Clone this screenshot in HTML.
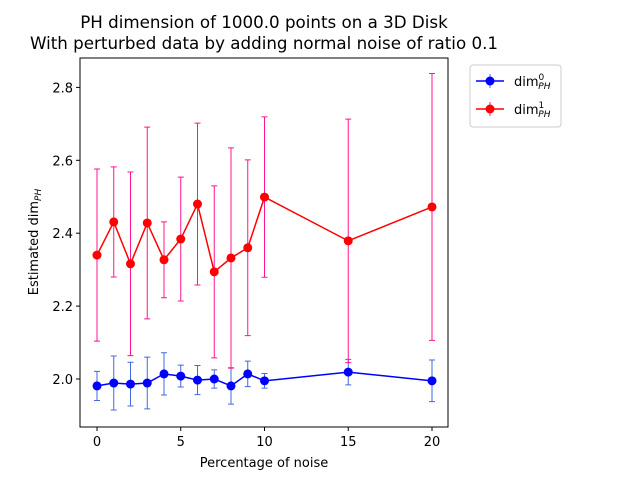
<!DOCTYPE html>
<html><head><meta charset="utf-8"><style>
body{margin:0;background:#fff}
svg{font-family:"DejaVu Sans","Liberation Sans",sans-serif}
</style></head><body>
<svg id="chart" width="640" height="480" viewBox="0 0 640 480">
<text x="264" y="28" font-size="16.7" text-anchor="middle">PH dimension of 1000.0 points on a 3D Disk</text>
<text x="264" y="49" font-size="16.7" text-anchor="middle">With perturbed data by adding normal noise of ratio 0.1</text>
<g id="plot"></g>
<rect x="80" y="58" width="368" height="369" fill="none" stroke="#000" stroke-width="1"/>
<text x="264" y="467" font-size="13" text-anchor="middle">Percentage of noise</text>
<text transform="translate(38,242) rotate(-90)" font-size="13" text-anchor="middle">Estimated dim<tspan font-size="9" dy="3" font-style="italic">PH</tspan></text>
<g>
<rect x="470" y="65" width="91" height="62" rx="3" fill="#fff" stroke="#ccc"/>
<g>
<line x1="476" y1="81" x2="504" y2="81" stroke="blue" stroke-width="1.5"/>
<line x1="490" y1="74" x2="490" y2="88" stroke="royalblue" stroke-width="1"/>
<circle cx="490" cy="81" r="4.5" fill="blue"/>
<text x="514" y="86" font-size="13">dim<tspan font-size="9" dy="-6">0</tspan><tspan font-size="9" dx="-6" dy="9" font-style="italic">PH</tspan></text>
</g>
<g>
<line x1="476" y1="109" x2="504" y2="109" stroke="red" stroke-width="1.5"/>
<line x1="490" y1="102" x2="490" y2="116" stroke="deeppink" stroke-width="1"/>
<circle cx="490" cy="109" r="4.5" fill="red"/>
<text x="514" y="114" font-size="13">dim<tspan font-size="9" dy="-6">1</tspan><tspan font-size="9" dx="-6" dy="9" font-style="italic">PH</tspan></text>
</g>
</g>
</svg>
<script>
const noiseLevels=[0,1,2,3,4,5,6,7,8,9,10,15,20];
const dim0Values=[1.981,1.989,1.986,1.989,2.014,2.008,1.997,2.0,1.981,2.014,1.995,2.019,1.995];
const dim0Errors=[0.04,0.074,0.06,0.071,0.058,0.03,0.04,0.025,0.05,0.035,0.02,0.035,0.057];
const dim1Values=[2.340,2.431,2.316,2.428,2.327,2.384,2.480,2.294,2.332,2.360,2.499,2.379,2.472];
const dim1Errors=[0.236,0.151,0.252,0.263,0.104,0.170,0.222,0.236,0.302,0.241,0.22,0.334,0.366];
const xTicks=[0,5,10,15,20];
const yTicks=[2.0,2.2,2.4,2.6,2.8];
const NS="http://www.w3.org/2000/svg";
const g=document.getElementById('plot');
function xs(v){return 97+v*16.75;}
function ys(v){return 379-(v-2.0)*364.5;}
function mk(t,a){const e=document.createElementNS(NS,t);for(const k in a)e.setAttribute(k,a[k]);g.appendChild(e);return e;}
xTicks.forEach(t=>{
  const l=mk('line',{x1:xs(t),x2:xs(t),y1:427,y2:431,stroke:'#000'});
  
  
  const tx=mk('text',{x:xs(t),y:446,'font-size':13,'text-anchor':'middle'});tx.textContent=t;
  
  
});
yTicks.forEach(t=>{
  const l=mk('line',{x1:76,x2:80,y1:ys(t),y2:ys(t),stroke:'#000'});
  
  
  const tx=mk('text',{x:73,y:ys(t)+5,'font-size':13,'text-anchor':'end'});tx.textContent=t.toFixed(1);
  
  
});
function series(vals,errs,col,ecol,name){
  noiseLevels.forEach((x,i)=>{
    const X=xs(x),t=ys(vals[i]+errs[i]),b=ys(vals[i]-errs[i]);
    const e=mk('path',{d:`M${X},${t}V${b}M${X-3},${t}H${X+3}M${X-3},${b}H${X+3}`,stroke:ecol,'stroke-width':1,fill:'none'});
    
    
  });
  const p=mk('polyline',{points:noiseLevels.map((x,i)=>xs(x)+','+ys(vals[i])).join(' '),fill:'none',stroke:col,'stroke-width':1.5});
  
  
  noiseLevels.forEach((x,i)=>{
    const c=mk('circle',{cx:xs(x),cy:ys(vals[i]),r:4.5,fill:col});
    
    
  });
}
series(dim0Values,dim0Errors,'blue','royalblue','dim0');
series(dim1Values,dim1Errors,'red','deeppink','dim1');
</script>
</body></html>
